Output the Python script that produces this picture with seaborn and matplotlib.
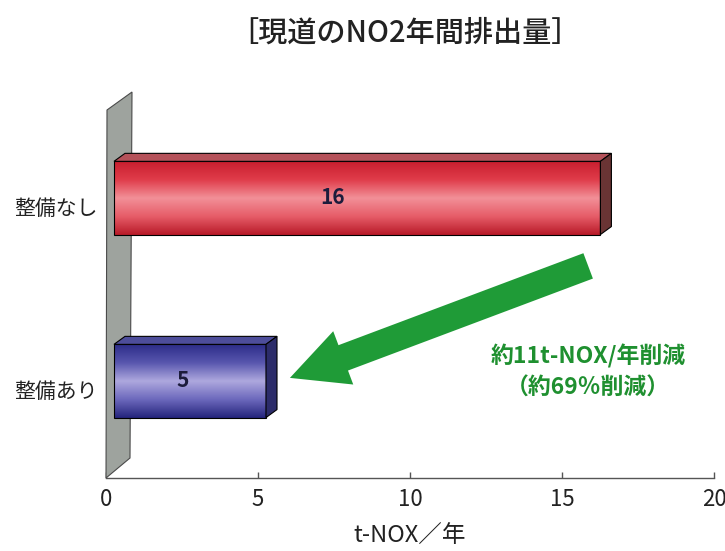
import numpy as np
import pandas as pd
import matplotlib
matplotlib.use("Agg")
import matplotlib.pyplot as plt
import matplotlib.transforms as mtransforms
from matplotlib.patches import Polygon
from matplotlib.colors import to_rgb
import seaborn as sns

# ---- data ----
categories = ["整備なし", "整備あり"]
values = [16, 5]
bar_labels = ["16", "5"]
x_ticks = [0, 5, 10, 15, 20]
title = "［現道のNO2年間排出量］"
x_label = "t-NOX／年"
note = "約11t-NOX/年削減\n（約69％削減）"

# ---- style ----
sns.set_theme(style="white")
plt.rcParams['font.family'] = ['Noto Sans CJK JP', 'DejaVu Sans']

W, H = 725, 551
fig = plt.figure(figsize=(W / 100, H / 100), dpi=100)
L, R, B, T = 106, 714, 478, 90
ax = fig.add_axes([L / W, 1 - B / H, (R - L) / W, (B - T) / H])

df = pd.DataFrame({"cat": categories, "val": values})
sns.barplot(data=df, x="val", y="cat", hue="cat", orient="h",
            palette=["#d83040", "#4040a0"], width=0.4, ax=ax,
            legend=False, edgecolor="black", linewidth=0.8)

ax.set_xlim(0, 20)
ax.set_ylim(1.481, -0.639)

# axes cosmetics
for s in ["top", "right", "left"]:
    ax.spines[s].set_visible(False)
ax.spines["bottom"].set_color("#555555")
ax.spines["bottom"].set_linewidth(1.0)
ax.set_xticks(x_ticks)
ax.set_xticklabels([str(t) for t in x_ticks])
ax.tick_params(axis="x", bottom=True, direction="in", length=4, width=1,
               color="#555555", labelsize=16, labelcolor="#222222", pad=7)
ax.set_yticks([0, 1])
ax.set_yticklabels(categories)
ax.tick_params(axis="y", left=False, length=0, pad=6, labelsize=15,
               labelcolor="#222222")
ax.set_yticks([0.5], minor=True)
ax.tick_params(axis="y", which="minor", left=True, direction="in",
               length=3, width=1, color="#555555")
ax.set_xlabel(x_label, fontsize=17, color="#222222", labelpad=10)
ax.set_ylabel("")

ident = mtransforms.IdentityTransform()

# ---- back wall (decoration) ----
bl = ax.transAxes.transform((0, 0))
wall_h = (478 - 110)
wall = Polygon([(bl[0], bl[1]),
                (bl[0] + 1, bl[1] + wall_h),
                (bl[0] + 26, bl[1] + wall_h + 18),
                (bl[0] + 24, bl[1] + 20)],
               closed=True, facecolor="#9ea39e", edgecolor="#4a4a4a",
               linewidth=0.8, transform=ident, clip_on=False, zorder=1)
ax.add_patch(wall)

# ---- 3D bars ----
dx_px, dy_px = 8, 9
off = mtransforms.ScaledTranslation(dx_px / 100, dy_px / 100, fig.dpi_scale_trans)
bar_tr = ax.transData + off
depth_x, depth_y = 11, 8

grad_stops = [
    ["#c81e2e", "#e03c4a", "#f29098", "#e65c68", "#b81a28"],
    ["#2c2c88", "#5856ae", "#aea8de", "#6c68bc", "#24247c"],
]
top_colors = ["#b5525a", "#4d4d9a"]
side_colors = ["#6a3434", "#2c2c6a"]

def make_grad(stops, n=200):
    cols = np.array([to_rgb(c) for c in stops])
    t = np.linspace(0, 1, n)
    pos = np.linspace(0, 1, len(stops))
    arr = np.stack([np.interp(t, pos, cols[:, k]) for k in range(3)], axis=-1)
    return arr[:, None, :]

bars = [b for b in list(ax.patches) if b is not wall]
for i, p in enumerate(bars):
    x0, y0, w, h = p.get_x(), p.get_y(), p.get_width(), p.get_height()
    p.set_transform(bar_tr)
    p.set_facecolor("none")
    p.set_zorder(3)
    img = ax.imshow(make_grad(grad_stops[i]), extent=[x0, x0 + w, y0 + h, y0],
                    aspect="auto", origin="upper", transform=bar_tr,
                    zorder=2.5, interpolation="bilinear")
    img.set_clip_path(p)

    c1 = ax.transData.transform((x0, y0))
    c2 = ax.transData.transform((x0 + w, y0 + h))
    X0 = min(c1[0], c2[0]) + dx_px
    X1 = max(c1[0], c2[0]) + dx_px
    Yb = min(c1[1], c2[1]) + dy_px
    Yt = max(c1[1], c2[1]) + dy_px
    top = Polygon([(X0, Yt), (X1, Yt), (X1 + depth_x, Yt + depth_y),
                   (X0 + depth_x, Yt + depth_y)], closed=True,
                  facecolor=top_colors[i], edgecolor="black", linewidth=0.8,
                  transform=ident, clip_on=False, zorder=3)
    side = Polygon([(X1, Yb), (X1 + depth_x, Yb + depth_y),
                    (X1 + depth_x, Yt + depth_y), (X1, Yt)], closed=True,
                   facecolor=side_colors[i], edgecolor="black", linewidth=0.8,
                   transform=ident, clip_on=False, zorder=3)
    ax.add_patch(top)
    ax.add_patch(side)

    ax.text(values[i] * 0.45, i, bar_labels[i], transform=bar_tr,
            ha="center", va="center", fontsize=15, fontweight="bold",
            color="#1c1c3c", zorder=5)

ax.set_xlim(0, 20)
ax.set_ylim(1.481, -0.639)

# ---- reduction arrow ----
ax.annotate("", xy=(6.05, 0.934), xytext=(15.86, 0.322),
            xycoords="data", textcoords="data",
            arrowprops=dict(arrowstyle="simple,head_length=4.1,head_width=4.1,tail_width=1.95",
                            mutation_scale=10, color="#1f9b37", shrinkA=0,
                            shrinkB=0, linewidth=0),
            zorder=4, annotation_clip=False)

fig.text(588 / W, 1 - 372 / H, note, ha="center", va="center",
         multialignment="center", fontsize=16.5, fontweight="bold",
         color="#1f9030", linespacing=1.45)

fig.text(405 / W, 1 - 33 / H, title, ha="center", va="center",
         fontsize=21, fontweight="medium", color="#222222")

fig.savefig("out.png", dpi=100, facecolor="white")
